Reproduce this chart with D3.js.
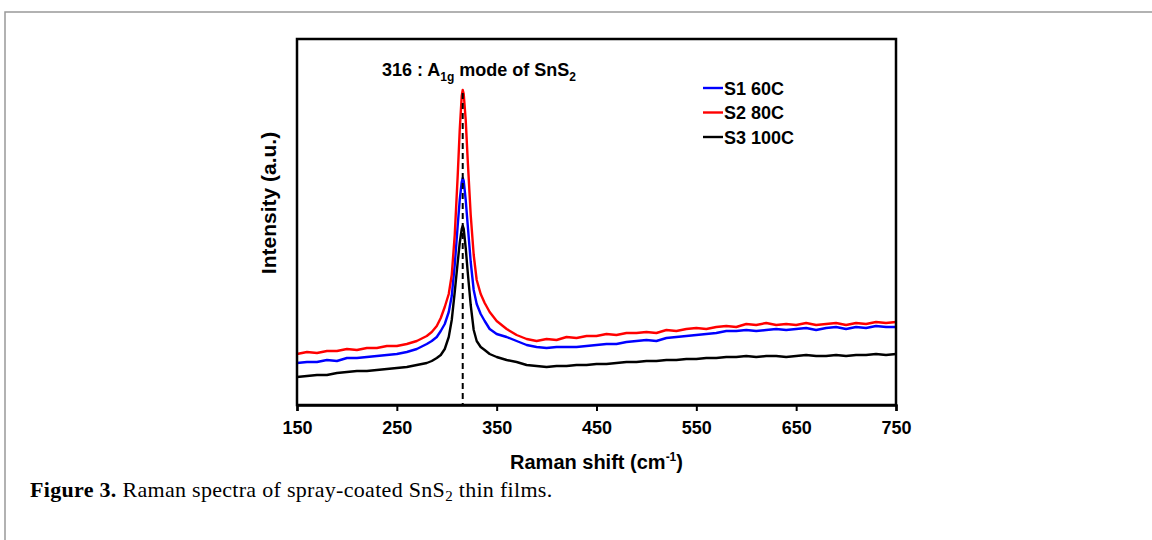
<!DOCTYPE html>
<html>
<head>
<meta charset="utf-8">
<script src="https://cdn.jsdelivr.net/npm/d3@7"></script>
<style>
  body { margin: 0; background: #fff; }
  svg text { font-family: "Liberation Sans", Arial, sans-serif; font-weight: bold; }
</style>
</head>
<body>
<div id="chart"></div>
<script>
// Raman shift grid (cm-1)
const shift = [150,160,170,180,190,200,210,220,230,240,250,260,270,280,
    285,290,294,298,302,305,308,311,313,315,316,317,319,321,324,327,330,334,338,343,
    350,360,370,380,390,400,410,420,430,440,450,460,470,480,490,500,510,520,530,540,
    550,560,570,580,590,600,610,620,630,640,650,660,670,680,690,700,710,720,730,740,750];

// intensities (a.u.)
const s1 = [42,43,43,45,44,47,47,48,49,50,51,53,56,61,
    64,68,74,81,93,109,140,180,205,223,227,224,205,180,143,115,101,91,84,76,
    71,68,64,60,58,57,58,58,58,59,60,61,61,63,64,65,64,67,68,69,
    70,71,72,74,74,75,74,75,76,75,76,77,75,77,78,76,78,77,79,78,78];
const s2 = [51,53,52,54,54,56,55,57,57,59,59,61,64,69,
    73,79,87,98,111,130,170,230,275,309,315,311,285,245,190,150,125,111,102,93,
    84,76,70,66,64,66,65,68,67,69,69,71,70,72,72,73,72,75,74,76,
    77,76,78,79,78,81,80,82,80,81,80,82,80,81,82,80,82,81,83,82,83];
const s3 = [28,29,30,30,32,33,34,34,35,36,37,38,40,42,
    44,47,50,56,68,85,113,143,162,176,179,176,157,133,100,75,64,58,55,51,
    48,45,43,40,39,38,39,39,40,40,41,41,42,43,43,44,44,45,45,46,
    46,47,47,48,48,49,48,49,49,48,49,50,49,49,50,49,50,50,51,50,51];

const seriesNames = ["S1 60C", "S2 80C", "S3 100C"];
const seriesColors = ["#0000ff", "#ff0000", "#000000"];
const xTicks = [150,250,350,450,550,650,750];
const peakPos = 316;

const W = 1152, H = 540;
const plot = {left: 297, right: 896, top: 39, bottom: 405};

const svg = d3.select("#chart").append("svg")
    .attr("width", W).attr("height", H);

// page frame (grey)
svg.append("path")
    .attr("d", `M5,${H} L5,12 L${W},12`)
    .attr("fill", "none").attr("stroke", "#999").attr("stroke-width", 1.5);

let x = d3.scaleLinear().domain([150, 750]).range([plot.left, plot.right]);
let y = d3.scaleLinear().domain([0, 366]).range([plot.bottom, plot.top]);

// curves
let line = d3.line().x((d, i) => x(shift[i])).y(d => y(d));
[s1, s2, s3].forEach((s, i) => {
    svg.append("path")
        .datum(s)
        .attr("fill", "none")
        .attr("stroke", seriesColors[i])
        .attr("stroke-width", 2.4)
        .attr("stroke-linejoin", "round")
        .attr("d", line);
});

// dashed peak marker
svg.append("line")
    .attr("x1", x(peakPos)).attr("x2", x(peakPos))
    .attr("y1", 93).attr("y2", plot.bottom)
    .attr("stroke", "#000").attr("stroke-width", 2)
    .attr("stroke-dasharray", "6,4");

// box
svg.append("rect")
    .attr("x", plot.left).attr("y", plot.top)
    .attr("width", plot.right - plot.left).attr("height", plot.bottom - plot.top)
    .attr("fill", "none").attr("stroke", "#000").attr("stroke-width", 2.5);

// x axis
let xAxis = svg.append("g")
    .attr("transform", `translate(0,${plot.bottom})`)
    .call(d3.axisBottom(x).tickValues(xTicks).tickSize(6).tickPadding(10).tickFormat(d3.format("d")));
xAxis.select(".domain").attr("stroke-width", 2.5);
xAxis.selectAll(".tick line").attr("stroke-width", 2);
xAxis.selectAll("text")
    .attr("font-size", 18).attr("font-weight", "bold")
    .attr("font-family", "'Liberation Sans', Arial, sans-serif")
    .attr("fill", "#000");

// axis titles
let xt = svg.append("text")
    .attr("x", (plot.left + plot.right) / 2).attr("y", 469)
    .attr("text-anchor", "middle").attr("font-size", 20);
xt.append("tspan").text("Raman shift (cm");
xt.append("tspan").attr("font-size", 12).attr("dy", -8).text("-1");
xt.append("tspan").attr("dy", 8).text(")");

svg.append("text")
    .attr("transform", "translate(276,203) rotate(-90)")
    .attr("text-anchor", "middle").attr("font-size", 21)
    .text("Intensity (a.u.)");

// peak annotation
let ann = svg.append("text")
    .attr("x", 479).attr("y", 76)
    .attr("text-anchor", "middle").attr("font-size", 18);
ann.append("tspan").text("316 : A");
ann.append("tspan").attr("font-size", 12).attr("dy", 5).text("1g");
ann.append("tspan").attr("dy", -5).text(" mode of SnS");
ann.append("tspan").attr("font-size", 12).attr("dy", 5).text("2");

// legend
let leg = svg.append("g").attr("transform", "translate(703,88)");
seriesNames.forEach((n, i) => {
    let g = leg.append("g").attr("transform", `translate(0,${i * 24.5})`);
    g.append("line").attr("x1", 0).attr("x2", 20).attr("y1", 0).attr("y2", 0)
        .attr("stroke", seriesColors[i]).attr("stroke-width", 2.4);
    g.append("text").attr("x", 21).attr("y", 6.5).attr("font-size", 18).text(n);
});

// caption
let cap = svg.append("text")
    .attr("x", 30).attr("y", 497)
    .attr("font-size", 22)
    .style("letter-spacing", "0.3px")
    .style("font-family", "'Liberation Serif', 'Times New Roman', serif")
    .style("font-weight", "normal");
cap.append("tspan").style("font-weight", "bold").text("Figure 3.");
cap.append("tspan").text(" Raman spectra of spray-coated SnS");
cap.append("tspan").attr("font-size", 15).attr("dy", 4).text("2");
cap.append("tspan").attr("dy", -4).text(" thin films.");
</script>
</body>
</html>
